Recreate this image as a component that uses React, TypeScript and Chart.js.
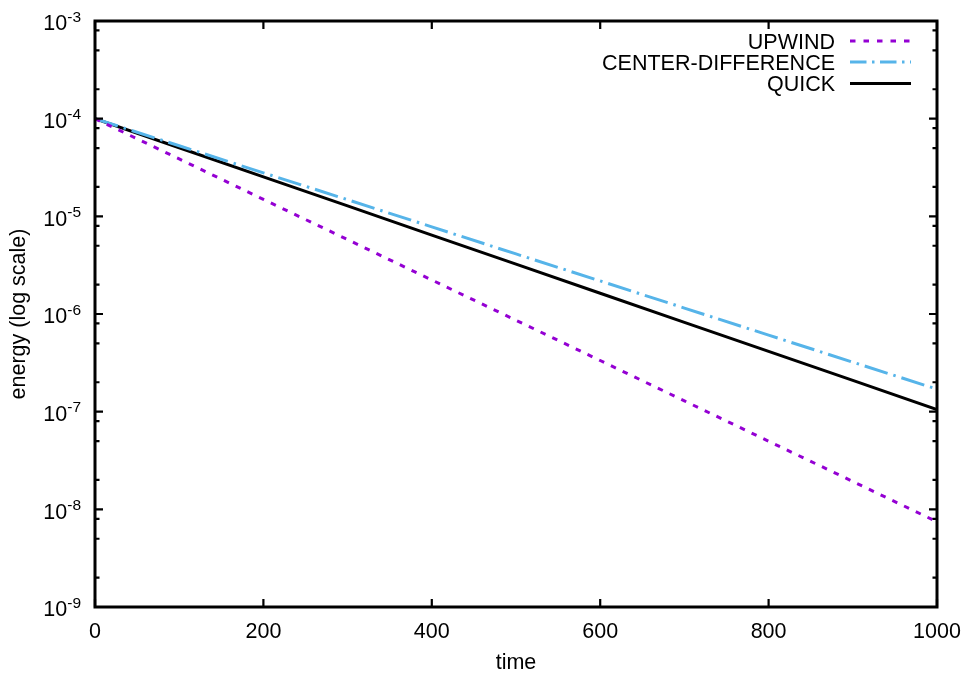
import React, { useEffect, useRef } from "react";
import { Chart, registerables } from "chart.js";

Chart.register(...registerables);

// ---- data ----
const times = [0, 100, 200, 300, 400, 500, 600, 700, 800, 900, 1000];
const upwind = [1.0e-4, 3.87e-5, 1.49e-5, 5.78e-6, 2.23e-6, 8.63e-7, 3.34e-7, 1.29e-7, 4.98e-8, 1.93e-8, 7.45e-9];
const centerDifference = [1.0e-4, 5.28e-5, 2.79e-5, 1.48e-5, 7.8e-6, 4.12e-6, 2.18e-6, 1.15e-6, 6.08e-7, 3.21e-7, 1.7e-7];
const quick = [1.0e-4, 5.04e-5, 2.54e-5, 1.28e-5, 6.43e-6, 3.24e-6, 1.63e-6, 8.22e-7, 4.14e-7, 2.09e-7, 1.05e-7];

const seriesLabels = ["UPWIND", "CENTER-DIFFERENCE", "QUICK"];
const seriesColors = ["#9400D3", "#56B4E9", "#000000"];
const xTicks = [0, 200, 400, 600, 800, 1000];
const yExponents = [-3, -4, -5, -6, -7, -8, -9];
const yMinorMultipliers = [2, 5, 8];
const xTitle = "time";
const yTitle = "energy (log scale)";

const FONT = "'Liberation Sans', Arial, Helvetica, sans-serif";

const plotDashes = [[5.5, 7.5], [24, 6, 2.5, 6], []];
const legendDashes = [[5.5, 8], [16.5, 5.5, 2.5, 5.5], []];

const gnuplotDecor = {
  id: "gnuplotDecor",
  afterDatasetsDraw(chart: any) {
    const { ctx, chartArea, scales } = chart;
    const { left, right, top, bottom } = chartArea;
    const x = scales.x;
    const y = scales.y;
    ctx.save();
    ctx.strokeStyle = "#000";
    ctx.fillStyle = "#000";
    ctx.setLineDash([]);

    // tick marks (inward, mirrored)
    ctx.lineWidth = 2.2;
    ctx.lineCap = "butt";
    ctx.beginPath();
    const major = 8;
    const minor = 4.5;
    xTicks.forEach((v) => {
      const px = x.getPixelForValue(v);
      ctx.moveTo(px, bottom);
      ctx.lineTo(px, bottom - major);
      ctx.moveTo(px, top);
      ctx.lineTo(px, top + major);
    });
    yExponents.forEach((e) => {
      const py = y.getPixelForValue(Math.pow(10, e));
      ctx.moveTo(left, py);
      ctx.lineTo(left + major, py);
      ctx.moveTo(right, py);
      ctx.lineTo(right - major, py);
      if (e < -3) {
        yMinorMultipliers.forEach((m) => {
          const pm = y.getPixelForValue(m * Math.pow(10, e));
          ctx.moveTo(left, pm);
          ctx.lineTo(left + minor, pm);
          ctx.moveTo(right, pm);
          ctx.lineTo(right - minor, pm);
        });
      }
    });
    ctx.stroke();

    // frame
    ctx.lineWidth = 3;
    ctx.strokeRect(left, top, right - left, bottom - top);

    // x tick labels
    ctx.font = `21.5px ${FONT}`;
    ctx.textAlign = "center";
    ctx.textBaseline = "alphabetic";
    xTicks.forEach((v) => {
      ctx.fillText(String(v), x.getPixelForValue(v), bottom + 31);
    });

    // y tick labels 10^e
    yExponents.forEach((e) => {
      const py = y.getPixelForValue(Math.pow(10, e));
      const expText = String(e);
      ctx.font = `15.5px ${FONT}`;
      const w = ctx.measureText(expText).width;
      const expRight = left - 14;
      ctx.textAlign = "left";
      ctx.fillText(expText, expRight - w, py + 0.5);
      ctx.font = `21.5px ${FONT}`;
      ctx.textAlign = "right";
      ctx.fillText("10", expRight - w, py + 9.3);
    });

    // axis titles
    ctx.font = `21.5px ${FONT}`;
    ctx.textAlign = "center";
    ctx.fillText(xTitle, (left + right) / 2, bottom + 62);
    ctx.save();
    ctx.translate(19, (top + bottom) / 2);
    ctx.rotate(-Math.PI / 2);
    ctx.textBaseline = "middle";
    ctx.fillText(yTitle, 0, 0);
    ctx.restore();

    // legend (top right)
    const rowY = [top + 20, top + 41, top + 62.5];
    chart.data.datasets.forEach((ds: any, i: number) => {
      const cy = rowY[i];
      ctx.font = `21.5px ${FONT}`;
      ctx.textAlign = "right";
      ctx.textBaseline = "alphabetic";
      ctx.fillStyle = "#000";
      ctx.fillText(ds.label, right - 102, cy + 7.6);
      ctx.strokeStyle = ds.borderColor;
      ctx.lineWidth = ds.borderWidth;
      ctx.setLineDash(legendDashes[i]);
      ctx.beginPath();
      ctx.moveTo(right - 87, cy);
      ctx.lineTo(right - 26, cy);
      ctx.stroke();
    });
    ctx.restore();
  },
};

export default function App() {
  const canvasRef = useRef<HTMLCanvasElement | null>(null);

  useEffect(() => {
    document.body.style.margin = "0";
    const canvas = canvasRef.current;
    if (!canvas) return;
    const seriesValues = [upwind, centerDifference, quick];
    const chart = new Chart(canvas, {
      type: "line",
      data: {
        datasets: seriesLabels.map((label, i) => ({
          label,
          data: times.map((t, j) => ({ x: t, y: seriesValues[i][j] })),
          borderColor: seriesColors[i],
          backgroundColor: seriesColors[i],
          borderWidth: 3,
          borderDash: plotDashes[i],
          borderCapStyle: "butt",
          pointRadius: 0,
          tension: 0,
          fill: false,
        })),
      },
      options: {
        animation: false,
        responsive: false,
        maintainAspectRatio: false,
        layout: { padding: { left: 95, top: 21, right: 31, bottom: 68 } },
        plugins: { legend: { display: false }, tooltip: { enabled: false } },
        scales: {
          x: { type: "linear", min: 0, max: 1000, display: false },
          y: { type: "logarithmic", min: 1e-9, max: 1e-3, display: false },
        },
      },
      plugins: [gnuplotDecor],
    });
    return () => chart.destroy();
  }, []);

  return (
    <div style={{ position: "relative", width: 968, height: 675, background: "#fff" }}>
      <canvas ref={canvasRef} width={968} height={675} style={{ display: "block" }} />
    </div>
  );
}
